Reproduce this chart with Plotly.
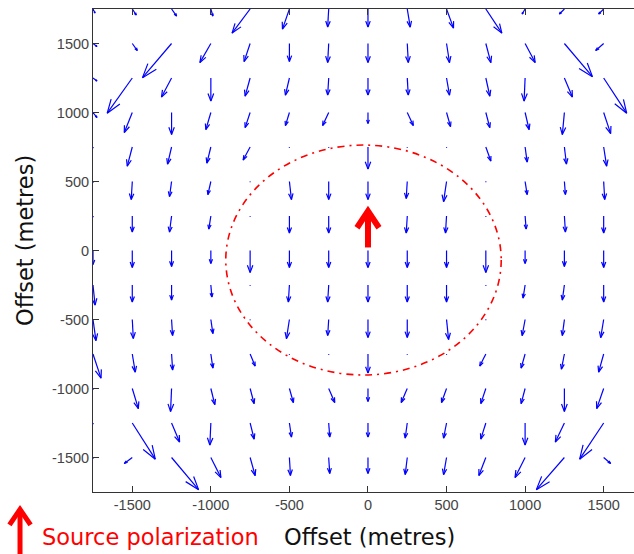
import plotly.graph_objects as go

# ---------------- data ----------------
x_grid = [-1750, -1500, -1250, -1000, -750, -500, -250, 0, 250, 500, 750, 1000, 1250, 1500, 1750]
y_grid = [1750, 1500, 1250, 1000, 750, 500, 250, 0, -250, -500, -750, -1000, -1250, -1500, -1750]

# field components (arbitrary units), rows follow y_grid, columns follow x_grid
U = [
    [1.8, 3.5, 4.4, 1.8, -15.8, -6.1, -0.9, 0, 2.6, 6.1, 14.0, -2.6, -4.4, -4.4, -1.8],
    [3.5, 4.4, -25.4, -9.6, -5.3, 0, -0.9, 0, 0.9, 2.6, 4.4, 8.8, 24.5, -7.0, -3.5],
    [3.5, -21.9, -8.8, 0, -4.4, -3.5, -0.9, 0, 0.9, 2.6, 3.5, -0.9, 7.0, 20.1, -3.5],
    [3.5, -7.0, 0, -4.4, -4.4, -3.5, -5.3, 0, 5.3, 3.5, 3.5, 3.5, -1.8, 6.1, -3.5],
    [0, -4.4, -3.5, -3.5, -6.1, 0, 0, 0, 0, 0, 4.4, 1.8, 1.8, 2.6, 0],
    [0, -0.9, -1.8, -2.6, 0, 1.8, 0, 0, -0.9, -2.6, 0, 1.8, 0.9, 0.9, 0],
    [0, 0, -1.8, -1.8, 0, 0, 0, 0, -0.9, -0.9, 0, 0.9, 0.9, 0, 0],
    [0, 0, 0, 0, 0, 0, 0, 0, 0, 0, 0, 0, 0, 0, 0],
    [1.8, 0, 0, 0.9, 0, -0.9, -0.9, 0, 0, 0, 0, -1.8, -1.8, 0, -1.8],
    [2.6, 0.9, 0.9, 1.8, 0, -2.6, -0.9, 0, 0, 1.8, 0, -2.6, -1.8, -2.6, -2.6],
    [7.0, 2.6, 0.9, 1.8, 4.4, 0, 0, 0, 0, 0, -5.3, -3.5, -2.6, -4.4, -7.0],
    [0, 5.3, -0.9, 3.5, 3.5, 3.5, 5.3, 0, -5.3, -4.4, -4.4, -3.5, 0, -6.1, 0],
    [0, 20.1, 7.0, -0.9, 3.5, 1.8, 0.9, 0, -1.8, -2.6, -4.4, 0, -7.9, -21.0, 0],
    [0, -7.0, 23.6, 8.8, 4.4, 0.9, 0.9, 0, -1.8, -2.6, -6.1, -8.8, -24.5, 6.1, 0],
    [0, 0, 0, 0, 0, 0, 0, 0, 0, 0, 0, 0, 0, 0, 0],
]
V = [
    [-4, -6, -7, -7, -24, -20, -18, -18, -18, -19, -24, -5, -5, -5, -4],
    [-3, -7, -34, -19, -18, -18, -19, -19, -19, -19, -19, -19, -33, -7, -3],
    [-3, -35, -19, -23, -18, -17, -17, -17, -17, -17, -18, -23, -19, -35, -3],
    [-5, -20, -22, -17, -15, -13, -13, -11, -13, -14, -15, -17, -22, -21, -5],
    [-1, -19, -17, -16, -13, -0.5, -0.5, -22, -0.5, -0.5, -14, -15, -17, -19, -1],
    [-1, -18, -15, -13, -0.5, -18, -18, -18, -17, -20, -0.5, -13, -13, -18, -1],
    [-1, -16, -16, -13, -0.5, -17, -17, -17, -17, -17, -0.5, -13, -16, -17, -1],
    [-14, -17, -16, -13, -22, -17, -17, -17, -17, -17, -22, -13, -16, -17, -14],
    [-20, -17, -15, -12, -0.5, -17, -17, -17, -17, -17, -0.5, -13, -15, -17, -20],
    [-21, -19, -16, -14, -0.5, -19, -16, -18, -18, -20, -0.5, -16, -16, -18, -21],
    [-24, -18, -16, -14, -12, -0.5, -0.5, -19, -0.5, -0.5, -12, -14, -15, -18, -24],
    [-1, -20, -23, -16, -15, -14, -14, -13, -14, -14, -15, -15, -23, -20, -1],
    [-1, -36, -19, -22, -16, -14, -14, -14, -15, -15, -16, -22, -19, -36, -1],
    [-1, -6, -32, -20, -18, -18, -16, -16, -17, -17, -18, -20, -32, -6, -1],
    [-1, -5, -20, -18, -16, -15, -15, -15, -15, -15, -16, -18, -20, -5, -1],
]

tick_vals = [-1500, -1000, -500, 0, 500, 1000, 1500]
tick_text = ["-1500", "-1000", "-500", "0", "500", "1000", "1500"]

# survey circle (dash-dot) and source marker
circle_x = [-905, 848]
circle_y = [-902, 764]
source_x = 0
source_y = [22, 285]

QUIVER_SCALE = 7.28
HEAD_ALPHA = 0.33
HEAD_BETA = 0.33

# ---------------- build quiver ----------------
sx, sy, hx, hy = [], [], [], []
for i, y in enumerate(y_grid):
    for j, x in enumerate(x_grid):
        u = U[i][j] * QUIVER_SCALE
        v = V[i][j] * QUIVER_SCALE
        sx += [x, x + u, None]
        sy += [y, y + v, None]
        hx += [x + u - HEAD_ALPHA * (u + HEAD_BETA * v), x + u,
               x + u - HEAD_ALPHA * (u - HEAD_BETA * v), None]
        hy += [y + v - HEAD_ALPHA * (v - HEAD_BETA * u), y + v,
               y + v - HEAD_ALPHA * (v + HEAD_BETA * u), None]

fig = go.Figure()
fig.add_trace(go.Scatter(x=sx, y=sy, mode="lines",
                         line=dict(color="#0000ff", width=1.2),
                         hoverinfo="skip", showlegend=False))
fig.add_trace(go.Scatter(x=hx, y=hy, mode="lines",
                         line=dict(color="#0000ff", width=1.2),
                         hoverinfo="skip", showlegend=False))

# ---------------- shapes ----------------
fig.add_shape(type="circle", xref="x", yref="y",
              x0=circle_x[0], x1=circle_x[1], y0=circle_y[0], y1=circle_y[1],
              line=dict(color="#ff0000", width=1.6, dash="7px,5px,2px,5px"))

# red source arrow in the centre
fig.add_shape(type="line", xref="x", yref="y",
              x0=source_x, x1=source_x, y0=source_y[0], y1=source_y[1],
              line=dict(color="#ff0000", width=6))
fig.add_shape(type="path", xref="x", yref="y",
              path=f"M {source_x-70},{165} L {source_x},{source_y[1]} L {source_x+70},{165}",
              line=dict(color="#ff0000", width=6))

# legend arrow (below the axes, left)
lx = -0.1349
fig.add_shape(type="line", xref="paper", yref="paper",
              x0=lx, x1=lx, y0=-0.15, y1=-0.036,
              line=dict(color="#ff0000", width=5))
fig.add_shape(type="path", xref="paper", yref="paper",
              path=f"M {lx-0.0195},-0.068 L {lx},-0.036 L {lx+0.0195},-0.068",
              line=dict(color="#ff0000", width=5))

# ---------------- text ----------------
TITLE_SIZE = 22.5
fig.add_annotation(text="Offset (metres)", xref="paper", yref="paper",
                   x=0.512, y=-0.093, showarrow=False,
                   xanchor="center", yanchor="middle",
                   font=dict(family="DejaVu Sans", size=TITLE_SIZE, color="#111111"))
fig.add_annotation(text="Offset (metres)", xref="paper", yref="paper",
                   x=-0.1257, y=0.5217, showarrow=False, textangle=-90,
                   xanchor="center", yanchor="middle",
                   font=dict(family="DejaVu Sans", size=TITLE_SIZE, color="#111111"))
fig.add_annotation(text="Source polarization", xref="paper", yref="paper",
                   x=-0.098, y=-0.093, showarrow=False,
                   xanchor="left", yanchor="middle",
                   font=dict(family="DejaVu Sans", size=TITLE_SIZE, color="#ff0000"))

axis_common = dict(
    tickvals=tick_vals, ticktext=tick_text,
    ticks="inside", ticklen=6, tickcolor="#333333", tickwidth=1,
    showline=True, linecolor="#333333", linewidth=1,
    showgrid=False, zeroline=False,
    tickfont=dict(family="Liberation Sans", size=14.5, color="#444444"),
)

fig.update_layout(
    width=634, height=554,
    margin=dict(l=93, r=0, t=9, b=62),
    paper_bgcolor="white", plot_bgcolor="white",
    xaxis=dict(range=[-1750, 1693], mirror="ticks", **axis_common),
    yaxis=dict(range=[-1750, 1750], mirror=False, **axis_common),
    showlegend=False,
)

fig.write_html("out.html")
